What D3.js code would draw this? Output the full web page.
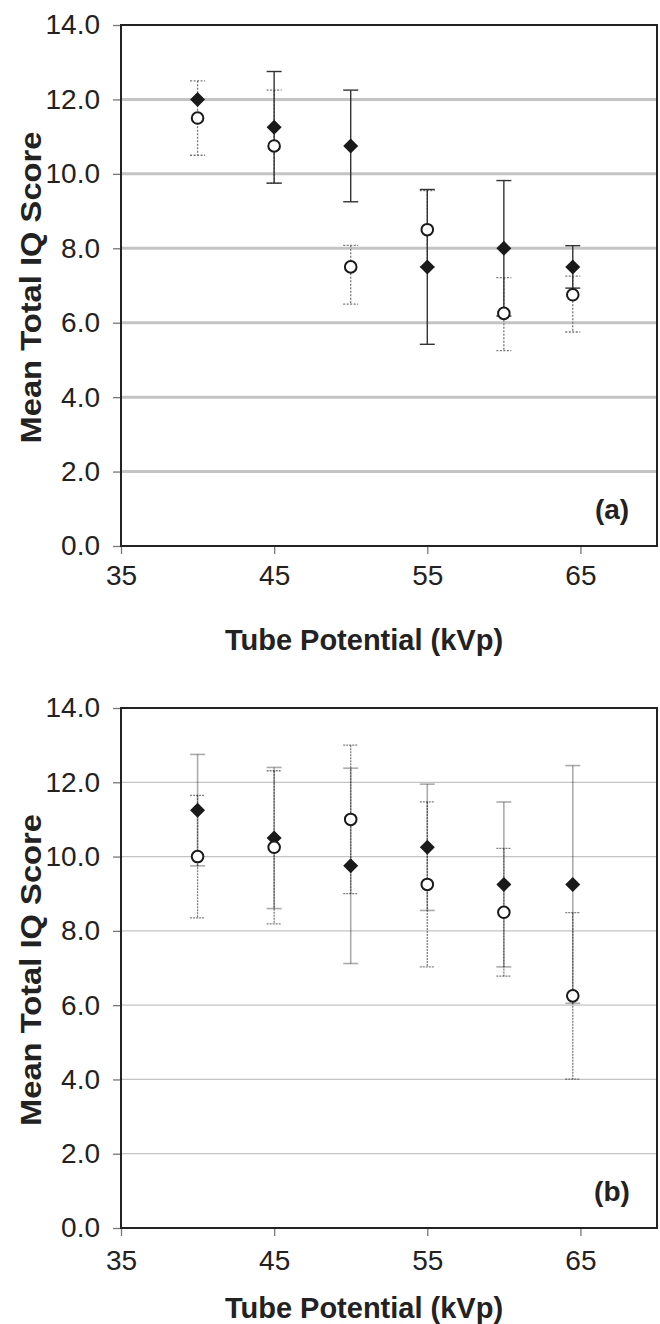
<!DOCTYPE html>
<html>
<head>
<meta charset="utf-8">
<script src="https://cdn.jsdelivr.net/npm/d3@7"></script>
<style>
  body { margin: 0; background: #fff; }
  svg { display: block; font-family: "Liberation Sans", Arial, sans-serif; }
</style>
</head>
<body>
<svg id="chart" width="660" height="1324"></svg>
<script>
// x positions (kVp) shared by both panels
const kvp = [40, 45, 50, 55, 60, 64.5];
const xTicks = [35, 45, 55, 65];
const yTicks = [0, 2, 4, 6, 8, 10, 12, 14];

// panel (a)
const aDiamond = [12.0, 11.25, 10.75, 7.5, 8.0, 7.5];
const aDiamondErr = [0, 1.5, 1.5, 2.08, 1.82, 0.57];
const aCircle = [11.5, 10.75, 7.5, 8.5, 6.25, 6.75];
const aCircleErrUp = [1.0, 1.5, 0.58, 1.05, 0.96, 0.5];
const aCircleErrDown = [1.0, 1.0, 1.0, 1.0, 1.0, 1.0];

// panel (b)
const bDiamond = [11.25, 10.5, 9.75, 10.25, 9.25, 9.25];
const bDiamondErr = [1.5, 1.9, 2.63, 1.7, 2.22, 3.2];
const bCircle = [10.0, 10.25, 11.0, 9.25, 8.5, 6.25];
const bCircleErr = [1.65, 2.06, 2.0, 2.22, 1.72, 2.24];

const svg = d3.select("#chart");

function drawPanel(p) {
  const x = d3.scaleLinear().domain([35, 70]).range([121, 657]);
  const y = d3.scaleLinear().domain([0, 14]).range([p.bottom, p.top]);
  const g = svg.append("g");

  // gridlines
  g.selectAll(".grid")
    .data(yTicks.filter((d) => d > 0 && d < 14))
    .enter()
    .append("line")
    .attr("x1", x(35))
    .attr("x2", x(70))
    .attr("y1", (d) => y(d))
    .attr("y2", (d) => y(d))
    .attr("stroke", "#c4c4c4")
    .attr("stroke-width", p.gridWidth);

  // axes
  const yAxis = g.append("g")
    .attr("transform", `translate(${x(35)},0)`)
    .call(d3.axisLeft(y).tickValues(yTicks).tickFormat(d3.format(".1f")).tickSize(8).tickPadding(13));
  const xAxis = g.append("g")
    .attr("transform", `translate(0,${y(0)})`)
    .call(d3.axisBottom(x).tickValues(xTicks).tickSize(8).tickPadding(p.xPad));
  [yAxis, xAxis].forEach((a) => {
    a.select(".domain").remove();
    a.selectAll(".tick line").attr("stroke", "#777").attr("stroke-width", 1.3);
    a.selectAll(".tick text").attr("fill", "#222").style("font-size", "28px");
  });

  // plot frame
  g.append("rect")
    .attr("x", x(35))
    .attr("y", y(14))
    .attr("width", x(70) - x(35))
    .attr("height", y(0) - y(14))
    .attr("fill", "none")
    .attr("stroke", "#222")
    .attr("stroke-width", 2);

  const circ = kvp.map((k, i) => ({ k, v: p.circle[i], up: p.circleUp[i], dn: p.circleDown[i] }));
  const diam = kvp.map((k, i) => ({ k, v: p.diamond[i], up: p.diamondErr[i], dn: p.diamondErr[i] }));

  function errorBars(data, style) {
    const eb = g.append("g").attr("stroke", style.color).attr("stroke-opacity", style.opacity)
      .attr("stroke-width", style.width).attr("stroke-dasharray", style.dash);
    const d2 = data.filter((d) => d.up > 0 || d.dn > 0);
    eb.selectAll(".v").data(d2).enter().append("line")
      .attr("x1", (d) => x(d.k)).attr("x2", (d) => x(d.k))
      .attr("y1", (d) => y(d.v + d.up)).attr("y2", (d) => y(d.v - d.dn));
    eb.selectAll(".cu").data(d2).enter().append("line")
      .attr("x1", (d) => x(d.k) - 7.5).attr("x2", (d) => x(d.k) + 7.5)
      .attr("y1", (d) => y(d.v + d.up)).attr("y2", (d) => y(d.v + d.up));
    eb.selectAll(".cd").data(d2).enter().append("line")
      .attr("x1", (d) => x(d.k) - 7.5).attr("x2", (d) => x(d.k) + 7.5)
      .attr("y1", (d) => y(d.v - d.dn)).attr("y2", (d) => y(d.v - d.dn));
  }

  errorBars(circ, p.circleStyle);
  errorBars(diam, p.diamondStyle);

  g.selectAll(".diamond").data(diam).enter().append("path")
    .attr("d", "M0,-7.5L7.5,0L0,7.5L-7.5,0Z")
    .attr("transform", (d) => `translate(${x(d.k)},${y(d.v)})`)
    .attr("fill", "#1a1a1a");

  g.selectAll(".circle").data(circ).enter().append("circle")
    .attr("cx", (d) => x(d.k)).attr("cy", (d) => y(d.v)).attr("r", 5.8)
    .attr("fill", "#fff").attr("stroke", "#1a1a1a").attr("stroke-width", 2);

  g.append("text")
    .attr("x", 612).attr("y", y(1.0)).attr("dy", "0.35em")
    .attr("text-anchor", "middle").attr("font-weight", "bold")
    .style("font-size", "28px").attr("fill", "#222").text(p.label);

  g.append("text")
    .attr("x", 364).attr("y", p.xTitleY)
    .attr("text-anchor", "middle").attr("font-weight", "bold")
    .style("font-size", "29px").attr("fill", "#222").text("Tube Potential (kVp)");

  g.append("text")
    .attr("transform", `translate(41,${(y(0) + y(14)) / 2 + 2}) rotate(-90)`)
    .attr("text-anchor", "middle").attr("font-weight", "bold")
    .attr("textLength", 312).attr("lengthAdjust", "spacingAndGlyphs")
    .style("font-size", "29px").attr("fill", "#222").text("Mean Total IQ Score");
}

drawPanel({
  top: 25, bottom: 546, gridWidth: 3, label: "(a)", xTitleY: 650, xPad: 11,
  diamond: aDiamond, diamondErr: aDiamondErr,
  circle: aCircle, circleUp: aCircleErrUp, circleDown: aCircleErrDown,
  diamondStyle: { color: "#333", opacity: 1, width: 1.4, dash: null },
  circleStyle: { color: "#777", opacity: 1, width: 1.3, dash: "2,1.5" },
});

drawPanel({
  top: 708, bottom: 1228, gridWidth: 1.3, label: "(b)", xTitleY: 1318, xPad: 14,
  diamond: bDiamond, diamondErr: bDiamondErr,
  circle: bCircle, circleUp: bCircleErr, circleDown: bCircleErr,
  diamondStyle: { color: "#000", opacity: 0.33, width: 1.6, dash: null },
  circleStyle: { color: "#000", opacity: 0.5, width: 1.3, dash: "2,1" },
});
</script>
</body>
</html>
